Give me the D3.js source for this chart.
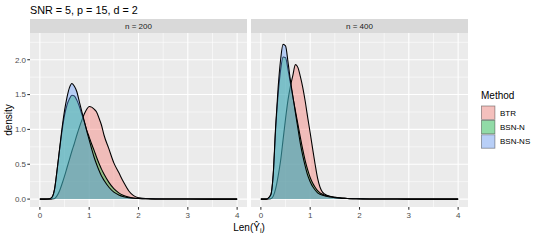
<!DOCTYPE html>
<html>
  <head>
    <meta charset="utf-8"/>
    <style>
      body { margin: 0; background: #fff; }
      text { font-family: "Liberation Sans", Arial, sans-serif; }
    </style>
  </head>
  <body>
    <script src="https://d3js.org/d3.v7.min.js"></script>
    <script type="text/javascript">
      var width = 540, height = 240;

      // chart data
      var methods = ["BTR", "BSN-N", "BSN-NS"];
      var colors = ["#F8766D", "#00BA38", "#619CFF"];
      var panels = ["n = 200", "n = 400"];
      var xTicks = [0, 1, 2, 3, 4];
      var yTicks = [0, 0.5, 1, 1.5, 2];
      var yTickLabels = ["0.0", "0.5", "1.0", "1.5", "2.0"];

      var xs = [0, 0.1, 0.2, 0.25, 0.3, 0.35, 0.4, 0.45, 0.5, 0.55, 0.6, 0.65, 0.7, 0.75,
                0.8, 0.85, 0.9, 0.95, 1.0, 1.05, 1.1, 1.15, 1.2, 1.25, 1.3, 1.4, 1.5,
                1.6, 1.7, 1.8, 1.9, 2.0, 2.2, 2.5, 3, 3.5, 4];

      // n = 200
      var btr200   = [0, 0, 0, 0.003, 0.01, 0.05, 0.12, 0.22, 0.33, 0.45, 0.57, 0.69, 0.8, 0.92,
                      1.03, 1.13, 1.22, 1.29, 1.33, 1.32, 1.29, 1.25, 1.16, 1.06, 0.92, 0.72, 0.52,
                      0.38, 0.24, 0.12, 0.05, 0.02, 0.006, 0.002, 0.001, 0, 0];
      var bsnN200  = [0, 0, 0.005, 0.03, 0.15, 0.42, 0.71, 0.98, 1.2, 1.35, 1.44, 1.49, 1.48, 1.42,
                      1.33, 1.22, 1.11, 0.99, 0.89, 0.79, 0.7, 0.6, 0.51, 0.43, 0.36, 0.24, 0.15,
                      0.09, 0.05, 0.028, 0.016, 0.01, 0.005, 0.002, 0.001, 0, 0];
      var bsnNS200 = [0, 0, 0.005, 0.03, 0.15, 0.42, 0.72, 1.02, 1.27, 1.46, 1.6, 1.66, 1.62, 1.54,
                      1.4, 1.26, 1.12, 0.98, 0.85, 0.72, 0.6, 0.5, 0.41, 0.33, 0.27, 0.17, 0.1,
                      0.06, 0.035, 0.02, 0.012, 0.008, 0.004, 0.002, 0.001, 0, 0];
      // n = 400
      var btr400   = [0, 0, 0.005, 0.04, 0.15, 0.33, 0.55, 0.85, 1.15, 1.42, 1.62, 1.78, 1.93, 1.89,
                      1.76, 1.6, 1.4, 1.17, 0.95, 0.72, 0.5, 0.3, 0.17, 0.1, 0.07, 0.04, 0.025,
                      0.016, 0.011, 0.007, 0.005, 0.003, 0.002, 0.001, 0, 0, 0];
      var bsnN400  = [0, 0, 0.06, 0.34, 1.0, 1.5, 1.85, 2.04, 2.03, 1.86, 1.66, 1.46, 1.27, 1.08,
                      0.89, 0.71, 0.55, 0.42, 0.31, 0.23, 0.17, 0.12, 0.09, 0.07, 0.055, 0.037, 0.026,
                      0.018, 0.012, 0.008, 0.006, 0.004, 0.002, 0.001, 0, 0, 0];
      var bsnNS400 = [0, 0, 0.06, 0.35, 1.05, 1.6, 2.0, 2.22, 2.2, 1.97, 1.7, 1.47, 1.24, 1.02,
                      0.8, 0.62, 0.47, 0.34, 0.25, 0.18, 0.13, 0.09, 0.07, 0.055, 0.045, 0.03, 0.02,
                      0.014, 0.01, 0.007, 0.005, 0.004, 0.002, 0.001, 0, 0, 0];

      var series = [[btr200, bsnN200, bsnNS200], [btr400, bsnN400, bsnNS400]];

      var svg = d3.select("body")
                  .append("svg")
                  .attr("width", width)
                  .attr("height", height);

      var panelLeft = [30, 251], panelW = 217;
      var stripTop = 19, panelTop = 33, panelBottom = 207;
      var yMax = 2.27;

      var y = d3.scaleLinear()
                .domain([-0.05 * yMax, yMax * 1.05])
                .range([panelBottom, panelTop]);

      panels.forEach(function(label, p) {
        var x = d3.scaleLinear()
                  .domain([-0.2, 4.2])
                  .range([panelLeft[p], panelLeft[p] + panelW]);
        var g = svg.append("g");

        g.append("rect")
         .attr("x", panelLeft[p]).attr("y", panelTop)
         .attr("width", panelW).attr("height", panelBottom - panelTop)
         .attr("fill", "#EBEBEB");

        // minor grid
        [0.5, 1.5, 2.5, 3.5].forEach(function(v) {
          g.append("line").attr("x1", x(v)).attr("x2", x(v))
           .attr("y1", panelTop).attr("y2", panelBottom)
           .attr("stroke", "#fff").attr("stroke-width", 0.55);
        });
        [0.25, 0.75, 1.25, 1.75, 2.25].forEach(function(v) {
          g.append("line").attr("x1", panelLeft[p]).attr("x2", panelLeft[p] + panelW)
           .attr("y1", y(v)).attr("y2", y(v))
           .attr("stroke", "#fff").attr("stroke-width", 0.55);
        });
        // major grid
        xTicks.forEach(function(v) {
          g.append("line").attr("x1", x(v)).attr("x2", x(v))
           .attr("y1", panelTop).attr("y2", panelBottom)
           .attr("stroke", "#fff").attr("stroke-width", 1.07);
        });
        yTicks.forEach(function(v) {
          g.append("line").attr("x1", panelLeft[p]).attr("x2", panelLeft[p] + panelW)
           .attr("y1", y(v)).attr("y2", y(v))
           .attr("stroke", "#fff").attr("stroke-width", 1.07);
        });

        var area = d3.area()
                     .x(function(d) { return x(d[0]); })
                     .y0(y(0))
                     .y1(function(d) { return y(d[1]); })
                     .curve(d3.curveMonotoneX);
        var line = d3.line()
                     .x(function(d) { return x(d[0]); })
                     .y(function(d) { return y(d[1]); })
                     .curve(d3.curveMonotoneX);

        series[p].forEach(function(vals, m) {
          var pts = xs.map(function(v, i) { return [v, vals[i]]; });
          g.append("path").attr("d", area(pts))
           .attr("fill", colors[m]).attr("fill-opacity", 0.4);
          g.append("path").attr("d", line(pts))
           .attr("fill", "none").attr("stroke", "#000").attr("stroke-width", 1.07);
        });

        // strip
        g.append("rect")
         .attr("x", panelLeft[p]).attr("y", stripTop)
         .attr("width", panelW).attr("height", panelTop - stripTop)
         .attr("fill", "#D9D9D9");
        g.append("text")
         .attr("x", panelLeft[p] + panelW / 2).attr("y", 29)
         .attr("text-anchor", "middle").attr("font-size", 8)
         .attr("fill", "#1A1A1A").text(label);

        // x axis
        xTicks.forEach(function(v) {
          g.append("line").attr("x1", x(v)).attr("x2", x(v))
           .attr("y1", panelBottom).attr("y2", panelBottom + 2.7)
           .attr("stroke", "#333").attr("stroke-width", 1.07);
          g.append("text").attr("x", x(v)).attr("y", 217.5)
           .attr("text-anchor", "middle").attr("font-size", 8)
           .attr("fill", "#4D4D4D").text(v);
        });

        if (p === 0) {
          yTicks.forEach(function(v, i) {
            g.append("line").attr("x1", panelLeft[p] - 2.7).attr("x2", panelLeft[p])
             .attr("y1", y(v)).attr("y2", y(v))
             .attr("stroke", "#333").attr("stroke-width", 1.07);
            g.append("text").attr("x", panelLeft[p] - 4).attr("y", y(v) + 2.9)
             .attr("text-anchor", "end").attr("font-size", 8)
             .attr("fill", "#4D4D4D").text(yTickLabels[i]);
          });
        }
      });

      // titles
      svg.append("text").attr("x", 30).attr("y", 13.5)
         .attr("font-size", 10.8).attr("fill", "#000")
         .text("SNR = 5, p = 15, d = 2");

      svg.append("text")
         .attr("transform", "translate(12," + ((panelTop + panelBottom) / 2) + ") rotate(-90)")
         .attr("text-anchor", "middle").attr("font-size", 10).attr("fill", "#000")
         .text("density");

      var xt = svg.append("text").attr("x", 249).attr("y", 231)
                  .attr("text-anchor", "middle").attr("font-size", 10).attr("fill", "#000");
      xt.append("tspan").text("Len(\u0176");
      xt.append("tspan").attr("font-size", 7).attr("dy", 2).text("i");
      xt.append("tspan").attr("dy", -2).text(")");

      // legend
      var lg = svg.append("g");
      lg.append("text").attr("x", 481).attr("y", 98.5)
        .attr("font-size", 10).attr("fill", "#000").text("Method");
      methods.forEach(function(name, m) {
        var ky = 105.5 + m * 14.4;
        lg.append("rect").attr("x", 481).attr("y", ky)
          .attr("width", 14.4).attr("height", 14.4).attr("fill", "#F2F2F2");
        lg.append("rect").attr("x", 481.5).attr("y", ky + 0.5)
          .attr("width", 13.4).attr("height", 13.4)
          .attr("fill", colors[m]).attr("fill-opacity", 0.4)
          .attr("stroke", "#000").attr("stroke-opacity", 0.4).attr("stroke-width", 0.8);
        lg.append("text").attr("x", 500).attr("y", ky + 10)
          .attr("font-size", 8).attr("fill", "#000").text(name);
      });
    </script>
  </body>
</html>
